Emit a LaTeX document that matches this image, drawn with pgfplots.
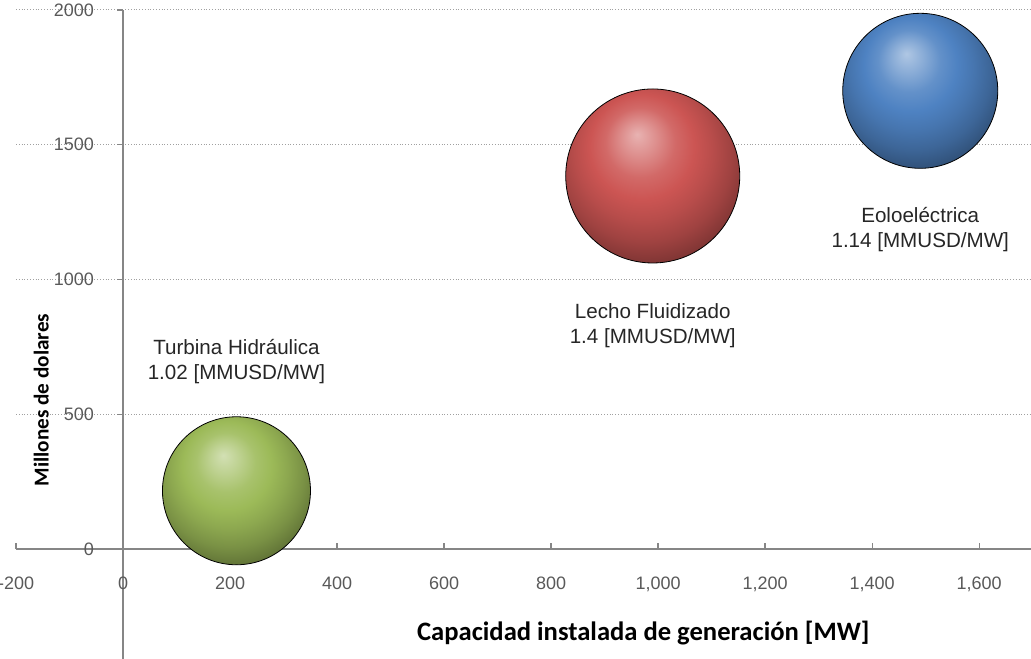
\documentclass[border=0pt]{standalone}
\usepackage{fontspec}
\setmainfont{Liberation Sans}
\newfontfamily\calibri{Carlito}
\usepackage{pgfplots}
\pgfplotsset{compat=1.18}
\definecolor{axgray}{HTML}{868686}
\definecolor{tkgray}{HTML}{595959}
\definecolor{gridgray}{HTML}{A0A0A0}
\definecolor{xgreen}{HTML}{9CBA58}
\definecolor{xred}{HTML}{CC5553}
\definecolor{xblue}{HTML}{4E82C2}
\definecolor{lbl}{HTML}{262626}
\newcommand\defball[2]{%
  \pgfdeclareradialshading{#1shade}{\pgfpoint{-4.5bp}{12bp}}{%
    color(0bp)=(#2!45!white); color(5bp)=(#2!66!white); color(10bp)=(#2!88!white);
    color(15bp)=(#2); color(20bp)=(#2!90!black); color(25bp)=(#2!78!black);
    color(29.5bp)=(#2!64!black); color(33bp)=(#2!50!black); color(35.5bp)=(#2!42!black);
    color(50bp)=(#2!42!black)}%
  \pgfdeclareplotmark{#1}{\shade[shading=#1shade] (0pt,0pt) circle (\pgfplotmarksize);}%
}
\defball{greenball}{xgreen}
\defball{redball}{xred}
\defball{blueball}{xblue}
\begin{document}
\begin{tikzpicture}
\begin{axis}[
  x=0.2675pt, y=0.13475pt,
  xmin=-200, xmax=1697, ymin=-408, ymax=2000,
  axis lines=middle,
  axis line style={-, draw=axgray, line width=0.6pt},
  hide obscured x ticks=false, hide obscured y ticks=false,
  xtick={-200,0,...,1600}, ytick={0,500,...,2000},
  ymajorgrids, grid style={densely dotted, gridgray, line width=0.5pt},
  major tick length=3pt,
  tick align=center,
  tick style={axgray, line width=0.6pt},
  xtick style={yshift=1.5pt},
  ytick style={xshift=-1.5pt},
  /pgf/number format/assume math mode=true,
  xticklabel style={font=\fontsize{9}{10}\selectfont, text=tkgray, anchor=north, yshift=-9pt},
  yticklabel style={font=\fontsize{9}{10}\selectfont, text=tkgray, anchor=east, xshift=-9.5pt, /pgf/number format/1000 sep={}},
  x tick label style={/pgf/number format/1000 sep={,}},
  xlabel={Capacidad instalada de generación [MW]},
  ylabel={Millones de dolares},
  xlabel style={at={(rel axis cs:0.618,0.0392)}, anchor=center, font=\calibri\bfseries\fontsize{13.3}{15}\selectfont, text=black},
  ylabel style={at={(rel axis cs:0.0248,0.399)}, anchor=center, rotate=90, font=\calibri\bfseries\fontsize{10.6}{12}\selectfont, text=black},
  clip=false,
  every node near coord/.append style={align=center, anchor=center, text=lbl, font=\fontsize{10.3}{12.5}\selectfont},
]
\addplot[only marks, mark=greenball, mark size=37pt,
  nodes near coords={Turbina Hidráulica\\1.02 [MMUSD/MW]},
  every node near coord/.append style={yshift=64.5pt}]
  coordinates {(212,216)};
\addplot[only marks, mark=redball, mark size=43.5pt,
  nodes near coords={Lecho Fluidizado\\1.4 [MMUSD/MW]},
  every node near coord/.append style={yshift=-75pt}]
  coordinates {(990,1384)};
\addplot[only marks, mark=blueball, mark size=38.75pt,
  nodes near coords={Eoloeléctrica\\1.14 [MMUSD/MW]},
  every node near coord/.append style={yshift=-69.5pt}]
  coordinates {(1490,1700)};
\coordinate (BL) at (axis cs:-230,-408);
\coordinate (TR) at (axis cs:1697,2037);
\end{axis}
\pgfresetboundingbox
\useasboundingbox (BL) rectangle (TR);
\end{tikzpicture}
\end{document}
